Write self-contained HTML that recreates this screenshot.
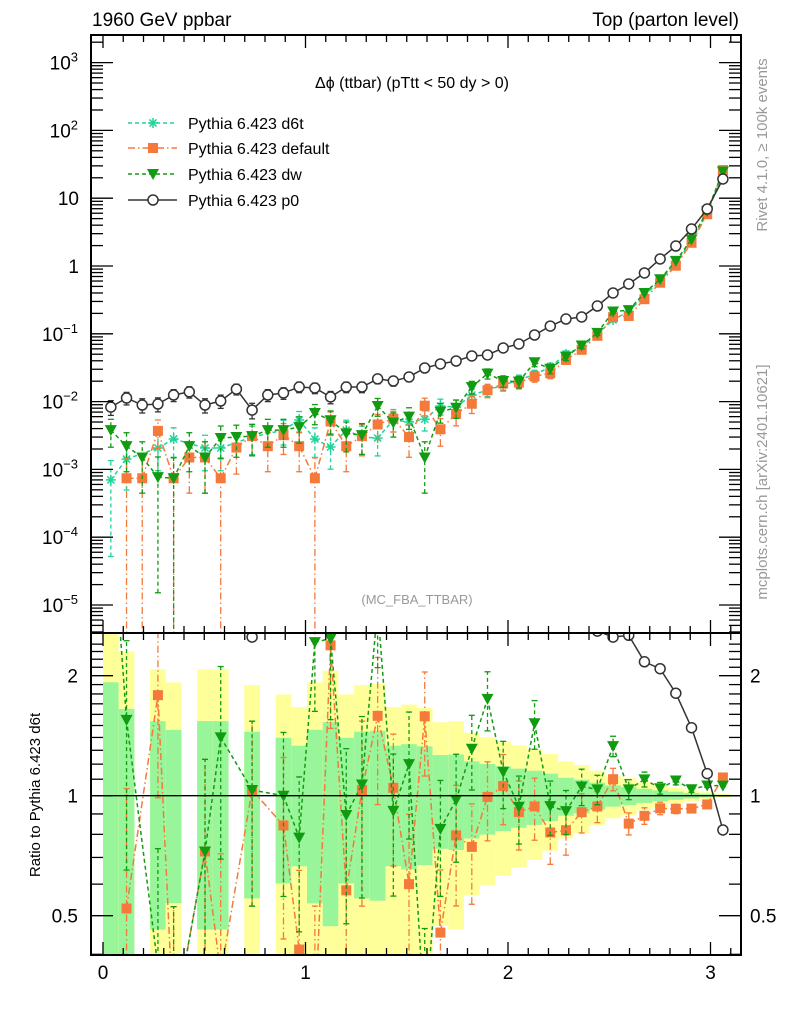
<!DOCTYPE html>
<html><head><meta charset="utf-8"><style>
html,body{margin:0;padding:0;background:#fff;width:786px;height:1024px;overflow:hidden;}
svg{display:block;font-family:"Liberation Sans",sans-serif;}
</style></head><body>
<svg id="chart" width="786" height="1024" viewBox="0 0 786 1024" xmlns="http://www.w3.org/2000/svg">
<defs>
<clipPath id="clipMain"><rect x="91" y="35" width="650" height="598"/></clipPath>
<clipPath id="clipRatio"><rect x="91" y="633" width="650" height="322"/></clipPath>
</defs>
<g id="bands" clip-path="url(#clipRatio)"></g>
<g id="series"></g>
<rect x="91" y="35" width="650" height="598" fill="none" stroke="#000" stroke-width="2"/>
<rect x="91" y="633" width="650" height="322" fill="none" stroke="#000" stroke-width="2"/>
<line x1="91" y1="795.7" x2="741" y2="795.7" stroke="#000" stroke-width="1.3"/>
<g id="ticks"></g>
<text x="92" y="26" font-size="19">1960 GeV ppbar</text>
<text x="739" y="26" font-size="19" text-anchor="end">Top (parton level)</text>
<text x="412" y="88" font-size="16" text-anchor="middle">Δϕ (ttbar) (pTtt &lt; 50 dy &gt; 0)</text>
<text x="417" y="604" font-size="13" fill="#999" text-anchor="middle">(MC_FBA_TTBAR)</text>
<text transform="translate(767,145) rotate(-90)" font-size="15" fill="#999" text-anchor="middle">Rivet 4.1.0, ≥ 100k events</text>
<text transform="translate(767,482) rotate(-90)" font-size="15" fill="#999" text-anchor="middle">mcplots.cern.ch [arXiv:2401.10621]</text>
<text transform="translate(40,795) rotate(-90)" font-size="15" text-anchor="middle">Ratio to Pythia 6.423 d6t</text>
<g id="legend"></g>
</svg>
<script>
const categories = [0.03875,0.11625,0.19375,0.27125,0.34875,0.42625,0.50375,0.58125,0.65875,0.73625,0.81375,0.89125,0.96875,1.04625,1.12375,1.20125,1.27875,1.35625,1.43375,1.51125,1.58875,1.66625,1.74375,1.82125,1.89875,1.97625,2.05375,2.13125,2.20875,2.28625,2.36375,2.44125,2.51875,2.59625,2.67375,2.75125,2.82875,2.90625,2.98375,3.06125];
const d6tValues = [0.0007,0.00142,0,0.00207,0.00281,0,0.00207,0.00207,0,0.0030,0,0.0038,0.00535,0.0028,0.00214,0.0038,0.0030,0.0029,0.00535,0.0050,0.0055,0.0086,0.0083,0.0125,0.0148,0.0175,0.021,0.025,0.0324,0.0503,0.0638,0.0993,0.160,0.215,0.364,0.61,1.09,2.37,6.1,23.4];
const defaultValues = [0,0.00074,0.00074,0.0037,0.00074,0.0015,0.0015,0.00074,0.0021,0.0031,0.0022,0.0032,0.0022,0.00074,0.0051,0.0022,0.0031,0.0046,0.0056,0.0030,0.0087,0.0039,0.0066,0.0093,0.0147,0.0185,0.0191,0.0235,0.0262,0.0412,0.058,0.0933,0.176,0.183,0.324,0.567,1.01,2.2,5.8,26];
const dwValues = [0.0038,0.0022,0.0015,0.00077,0.00074,0.0022,0.0015,0.0029,0.0030,0.0031,0.0038,0.0038,0.0042,0.0068,0.0053,0.0034,0.0032,0.0086,0.0049,0.0060,0.0015,0.0071,0.0081,0.0164,0.0259,0.0201,0.0197,0.038,0.0305,0.046,0.0673,0.103,0.213,0.223,0.40,0.637,1.19,2.46,6.47,24.8];
const p0Values = [0.0083,0.0113,0.0089,0.0092,0.0125,0.0139,0.0089,0.0102,0.0153,0.0075,0.0125,0.0134,0.0164,0.0159,0.0117,0.0164,0.0164,0.0216,0.0201,0.0231,0.0313,0.0359,0.0397,0.0471,0.0487,0.0618,0.0708,0.096,0.130,0.165,0.177,0.257,0.400,0.543,0.789,1.27,1.97,3.51,6.93,19.2];
const eventWeights = [0.0006,0.00074,0.00074,0.0005];
const xTickLabels = ["0","1","2","3"];
const yTickLabels = ["10^-5","10^-4","10^-3","10^-2","10^-1","1","10","10^2","10^3"];
const ratioTickLabels = ["0.5","1","2"];
const seriesNames = ["Pythia 6.423 d6t","Pythia 6.423 default","Pythia 6.423 dw","Pythia 6.423 p0"];

const NS="http://www.w3.org/2000/svg";
const X0=91,X1=741,MT=35,MB=633,RT=633,RB=955;
const binW=3.1/40;
function px(x){return 103+202.5*x;}
function ym(v){return 266-67.8*Math.log10(v);}
function yr(r){return 795.7-120*Math.log2(r);}
function mk(tag,attrs,parent){const e=document.createElementNS(NS,tag);for(const k in attrs)e.setAttribute(k,attrs[k]);parent.appendChild(e);return e;}
const gBands=document.getElementById('bands'),gTicks=document.getElementById('ticks'),gSeries=document.getElementById('series'),gLeg=document.getElementById('legend');
function clampY(y,lo,hi){return Math.max(lo,Math.min(hi,y));}

d6tValues.forEach((v,i)=>{
  if(v<=0)return;
  const rel=Math.sqrt(eventWeights[0]/v);
  const xa=px(categories[i]-binW/2),xb=px(categories[i]+binW/2);
  const y2t=clampY(yr(1+2*rel),RT-2,RB+2),y2b=(1-2*rel)>0?clampY(yr(1-2*rel),RT-2,RB+2):RB+2;
  const y1t=clampY(yr(1+rel),RT-2,RB+2),y1b=(1-rel)>0?clampY(yr(1-rel),RT-2,RB+2):RB+2;
  const b2=mk('rect',{x:xa,y:y2t,width:xb-xa,height:Math.max(0,y2b-y2t),fill:'#ffff99'},gBands);
  
  
  const b1=mk('rect',{x:xa,y:y1t,width:xb-xa,height:Math.max(0,y1b-y1t),fill:'#99f599'},gBands);
  
  
});

function tk(x1,y1,x2,y2,name){const l=mk('line',{x1,y1,x2,y2,stroke:'#000','stroke-width':1.3},gTicks);}
for(let k=0;k<=31;k++){
  const x=px(k*0.1);if(x>X1-1)continue;
  const major=k%10===0;const L=major?13:7;
  tk(x,MT,x,MT+L,'x-tick');tk(x,MB,x,MB-L,'x-tick');tk(x,MB,x,MB+L,'x-tick');tk(x,RB,x,RB-L,'x-tick');
}
xTickLabels.forEach(s=>{const t=mk('text',{x:px(+s),y:979,'font-size':19,'text-anchor':'middle'},gTicks);t.textContent=s;});
for(let d=-6;d<=3;d++){
  for(let m=1;m<10;m++){
    const y=ym(m*Math.pow(10,d));if(y<MT||y>MB)continue;
    const L=m===1?22:12;
    tk(X0,y,X0+L,y,'y-tick');tk(X1,y,X1-L,y,'y-tick');
  }
}
yTickLabels.forEach(s=>{
  const parts=s.split('^');const base=parts[0];const exp=parts[1];
  const v=exp!==undefined?Math.pow(10,+exp):+base;const y=ym(v)+7;
  const t=mk('text',{x:exp!==undefined?78:79,y:y,'font-size':19,'text-anchor':'end'},gTicks);
  if(exp!==undefined){t.textContent=base;const ts=mk('tspan',{dy:-8,'font-size':13},t);ts.textContent=exp.replace('-','−');}
  else t.textContent=base;
  
});
[0.4,0.5,0.6,0.7,0.8,0.9,1,2].forEach(r=>{const y=yr(r);const L=(r===1||r===2||r===0.5)?22:12;tk(X0,y,X0+L,y,'ratio-y-tick');tk(X1,y,X1-L,y,'ratio-y-tick');});
for(let r=1.1;r<2.5;r+=0.1){if(Math.abs(r-2)<0.01)continue;const y=yr(r);tk(X0,y,X0+12,y,'ratio-y-tick');tk(X1,y,X1-12,y,'ratio-y-tick');}
ratioTickLabels.forEach(s=>{
  const y=yr(+s)+7;
  const a=mk('text',{x:78,y:y,'font-size':19,'text-anchor':'end'},gTicks);a.textContent=s;
  const b=mk('text',{x:750,y:y,'font-size':19},gTicks);b.textContent=s;
});

const styles=[
 {c:'#22d39a',dash:'4,3',m:'star'},
 {c:'#f5793a',dash:'7,3,1.5,3',m:'square'},
 {c:'#119b11',dash:'4,3',m:'tri'},
 {c:'#333333',dash:'',m:'circle'}];
const allVals=[d6tValues,defaultValues,dwValues,p0Values];
function marker(g,type,x,y,c){
  if(type==='star'){for(let a=0;a<4;a++){const an=a*Math.PI/4;mk('line',{x1:x-5*Math.cos(an),y1:y-5*Math.sin(an),x2:x+5*Math.cos(an),y2:y+5*Math.sin(an),stroke:c,'stroke-width':1.5},g);}}
  else if(type==='square')mk('rect',{x:x-5,y:y-5,width:10,height:10,fill:c},g);
  else if(type==='tri')mk('path',{d:`M${x-6},${y-5}L${x+6},${y-5}L${x},${y+6}Z`,fill:c},g);
  else mk('circle',{cx:x,cy:y,r:5,fill:'#fff',stroke:c,'stroke-width':1.5},g);
}
function clipSeg(a,b,lo,hi){
  let [x1,y1]=a,[x2,y2]=b;
  if((y1<lo&&y2<lo)||(y1>hi&&y2>hi))return null;
  function at(y){return x1+(x2-x1)*(y-y1)/(y2-y1);}
  let p=[x1,y1],q=[x2,y2];
  if(y1<lo)p=[at(lo),lo];else if(y1>hi)p=[at(hi),hi];
  if(y2<lo)q=[at(lo),lo];else if(y2>hi)q=[at(hi),hi];
  return [p,q];
}
function drawSeries(si,ratio){
  const st=styles[si],vals=allVals[si];
  const g=mk('g',{'clip-path':ratio?'url(#clipRatio)':'url(#clipMain)'},gSeries);
  
  
  const lo=ratio?RT-10:MT-10, hi=ratio?RB+10:MB+10;
  const pts=[];
  vals.forEach((v,i)=>{
    if(v<=0)return;
    let val=v;
    if(ratio){if(d6tValues[i]<=0)return;val=v/d6tValues[i];}
    const rel=Math.sqrt(eventWeights[si]/v);
    const x=px(categories[i]);
    const f=ratio?yr:ym;const y=f(val);
    const yl=(1-rel)>0?f(val*(1-rel)):hi;
    const yh=f(val*(1+rel));
    pts.push([x,y,clampY(yl,lo,hi),clampY(yh,lo,hi)]);
  });
  let d='';
  for(let k=0;k+1<pts.length;k++){
    const s=clipSeg(pts[k],pts[k+1],lo,hi);
    if(!s)continue;
    d+=`M${s[0][0].toFixed(2)},${s[0][1].toFixed(2)}L${s[1][0].toFixed(2)},${s[1][1].toFixed(2)}`;
  }
  if(d)mk('path',{d:d,fill:'none',stroke:st.c,'stroke-width':1.5,'stroke-dasharray':st.dash},g);
  pts.forEach(p=>{
    if(si<3||!ratio){
      if(p[2]!==p[3]){
        mk('line',{x1:p[0],y1:p[2],x2:p[0],y2:p[3],stroke:st.c,'stroke-width':1.3,'stroke-dasharray':st.dash},g);
        mk('line',{x1:p[0]-3,y1:p[2],x2:p[0]+3,y2:p[2],stroke:st.c,'stroke-width':1.3},g);
        mk('line',{x1:p[0]-3,y1:p[3],x2:p[0]+3,y2:p[3],stroke:st.c,'stroke-width':1.3},g);
      }
    }
    if(p[1]>=lo&&p[1]<=hi)marker(g,st.m,p[0],p[1],st.c);
  });
}
[0,1,2,3].forEach(s=>drawSeries(s,false));
[1,2,3].forEach(s=>drawSeries(s,true));

const legY=[123,148,174,200];
seriesNames.forEach((n,i)=>{
  const st=styles[i];
  const g=mk('g',{},gLeg);
  
  
  mk('line',{x1:128,y1:legY[i],x2:177,y2:legY[i],stroke:st.c,'stroke-width':1.5,'stroke-dasharray':st.dash},g);
  marker(g,st.m,153,legY[i],st.c);
  const t=mk('text',{x:188,y:legY[i]+6,'font-size':16},g);t.textContent=n;
});
</script>
</body></html>
